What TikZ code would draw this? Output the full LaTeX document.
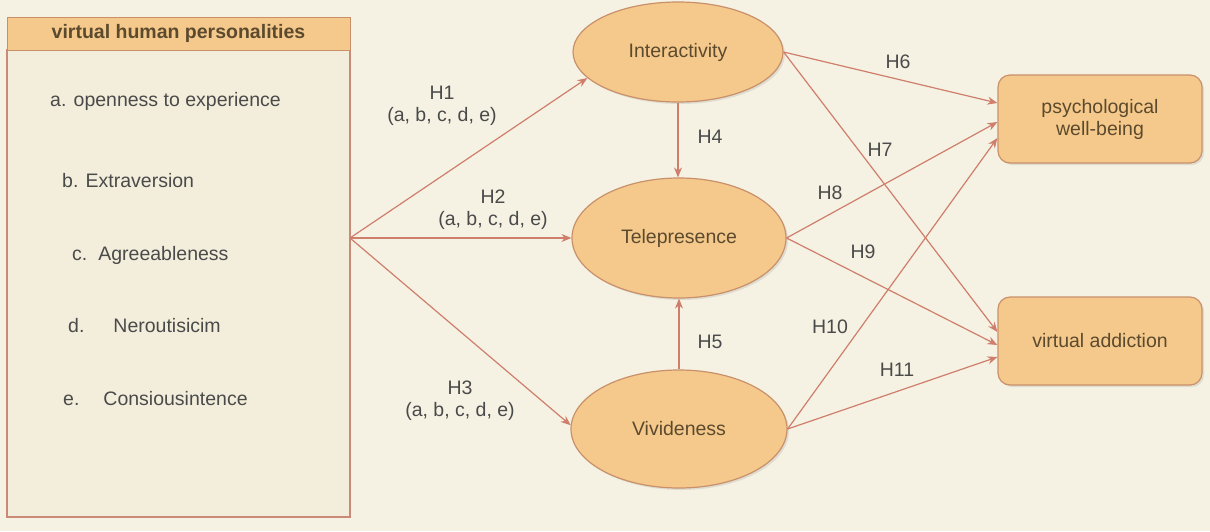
\documentclass[tikz,border=0pt]{standalone}
\usepackage{fontspec}
\setmainfont{Liberation Sans}
\usetikzlibrary{arrows.meta,shapes.geometric,shadows}
\definecolor{bgc}{HTML}{F5F2E3}
\definecolor{boxfill}{HTML}{F3EEDB}
\definecolor{boxline}{HTML}{C98B78}
\definecolor{orfill}{HTML}{F5C98B}
\definecolor{orline}{HTML}{C9906A}
\definecolor{arrc}{HTML}{D07E6C}
\definecolor{txtc}{HTML}{4A4A4A}
\definecolor{ortxt}{HTML}{5C4A2E}
\tikzset{
  listbox/.style={draw=boxline, fill=boxfill, line width=1.2pt, inner sep=0pt},
  headbox/.style={draw=orline, fill=orfill, line width=1pt, inner sep=0pt, font=\fontsize{19.5}{23}\selectfont\bfseries, text=ortxt},
  item/.style={text=txtc, inner sep=0pt},
  ell/.style={ellipse, draw=orline, fill=orfill, line width=1.2pt, inner sep=2pt, text=ortxt,
    drop shadow={shadow xshift=2pt, shadow yshift=-2pt, opacity=0.18}},
  outbox/.style={rectangle, rounded corners=12pt, draw=orline, fill=orfill, line width=1.2pt, text=ortxt, align=center,
    drop shadow={shadow xshift=2pt, shadow yshift=-2pt, opacity=0.18}},
  lab/.style={text=txtc, align=center, inner sep=0pt},
  arr/.style={draw=arrc, line width=1.2pt, -{Stealth[length=10pt,width=8pt]}}
}
\begin{document}
\begin{tikzpicture}[x=1pt,y=-1pt,font=\fontsize{19.5}{22}\selectfont]
\fill[bgc] (0,0) rectangle (1210,531);
\useasboundingbox (0,0) rectangle (1210,531);

% left box
\node[listbox, minimum width=343pt, minimum height=467pt] (body) at (178.5,283.5) {};
\node[headbox, minimum width=343pt, minimum height=33pt] (head) at (178.5,33.5) {virtual human personalities};
\node[item, anchor=base west] (la) at (50,106) {a. openness to experience};
\node[item, anchor=base west] (lb) at (62,187) {b. Extraversion};
\node[item, anchor=base west] (lc) at (72,260) {c.\hspace{11pt}Agreeableness};
\node[item, anchor=base west] (ld) at (68,332) {d.\hspace{29pt}Neroutisicim};
\node[item, anchor=base west] (le) at (63,405) {e.\hspace{24pt}Consiousintence};
\coordinate (src) at (350,238);

% ellipses
\node[ell, minimum width=210pt, minimum height=100pt] (inter) at (678,52) {Interactivity};
\node[ell, minimum width=214pt, minimum height=120pt] (tele) at (679,238) {Telepresence};
\node[ell, minimum width=216pt, minimum height=118pt] (viv) at (679,429) {Vivideness};

% outcome boxes
\node[outbox, minimum width=204pt, minimum height=88pt] (psych) at (1100,119) {psychological\\well-being};
\node[outbox, minimum width=204pt, minimum height=88pt] (va) at (1100,341) {virtual addiction};

% arrows
\draw[arr] (src) -- (inter.196);
\draw[arr] (src) -- (tele.west);
\draw[arr] (src) -- (viv.178);
\draw[arr] (inter.south) -- (inter.south |- tele.north);
\draw[arr] (viv.north) -- (tele.south);
\draw[arr] (inter.east) -- ([yshift=16pt]psych.west);
\draw[arr] (inter.east) -- ([yshift=9pt]va.west);
\draw[arr] (tele.east) -- ([yshift=-3pt]psych.west);
\draw[arr] (tele.east) -- ([yshift=-4pt]va.west);
\draw[arr] (viv.east) -- ([yshift=-19pt]psych.west);
\draw[arr] (viv.east) -- ([yshift=-16pt]va.west);

% labels
\node[lab] (h1) at (442,106) {H1\\(a, b, c, d, e)};
\node[lab] (h2) at (493,210) {H2\\(a, b, c, d, e)};
\node[lab] (h3) at (460,401) {H3\\(a, b, c, d, e)};
\node[lab] (h4) at (710,137) {H4};
\node[lab] (h5) at (710,342) {H5};
\node[lab] (h6) at (898,62) {H6};
\node[lab] (h7) at (880,150) {H7};
\node[lab] (h8) at (830,193) {H8};
\node[lab] (h9) at (863,252) {H9};
\node[lab] (h10) at (830,327) {H10};
\node[lab] (h11) at (897,370) {H11};
\end{tikzpicture}
\end{document}
